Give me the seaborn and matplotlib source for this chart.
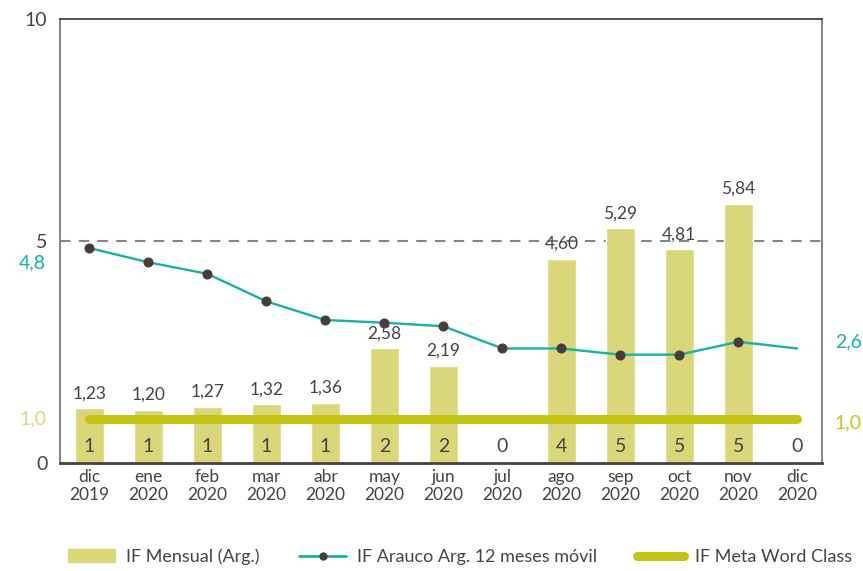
import numpy as np
import pandas as pd
import matplotlib.pyplot as plt
import seaborn as sns
from matplotlib.ticker import MultipleLocator
from matplotlib.lines import Line2D
from matplotlib.patches import Patch
import matplotlib.transforms as mtransforms

# data
meses = ["dic\n2019", "ene\n2020", "feb\n2020", "mar\n2020", "abr\n2020", "may\n2020",
         "jun\n2020", "jul\n2020", "ago\n2020", "sep\n2020", "oct\n2020", "nov\n2020",
         "dic\n2020"]
if_mensual = [1.23, 1.20, 1.27, 1.32, 1.36, 2.58, 2.19, 0, 4.60, 5.29, 4.81, 5.84, 0]
accidentes = [1, 1, 1, 1, 1, 2, 2, 0, 4, 5, 5, 5, 0]
if_movil = [4.84, 4.52, 4.26, 3.64, 3.22, 3.16, 3.08, 2.58, 2.58, 2.44, 2.44, 2.73, 2.58]
meta = 1.0

BAR = "#dad77a"
TEAL = "#17b1a7"
OLIVE = "#c4c417"
DARK = "#4a4141"
GRAY = "#7d7774"

sns.set_style("white")
plt.rcParams["font.family"] = ["Lato", "DejaVu Sans"]

df = pd.DataFrame({"mes": meses, "if_mensual": if_mensual,
                   "accidentes": accidentes, "if_movil": if_movil})
df["pos"] = np.arange(len(df))

fig = plt.figure(figsize=(8.63, 5.71), dpi=100)
ax = fig.add_axes([0.0695, 0.189, 0.883, 0.778])

sns.barplot(data=df, x="mes", y="if_mensual", order=meses, color=BAR,
            saturation=1, width=0.49, ax=ax, zorder=2)

# target line (meta)
ax.plot([df["pos"].iloc[0], df["pos"].iloc[-1]], [meta, meta], color=OLIVE, lw=6.5,
        solid_capstyle="round", zorder=3)

# dashed reference at 5
ax.axhline(5, color="#858585", lw=1.5, ls=(0, (5, 4)), zorder=1)

# 12 month moving line
sns.lineplot(data=df, x="pos", y="if_movil", color=TEAL, lw=1.7, marker="o",
             markersize=6.5, markerfacecolor="#463c3c", markeredgecolor="#463c3c",
             markevery=list(range(len(df) - 1)), ax=ax, zorder=4)

# value labels
for i, row in df.iterrows():
    if row["if_mensual"] > 0:
        ax.annotate(f"{row['if_mensual']:.2f}".replace(".", ","),
                    (row["pos"], row["if_mensual"]), xytext=(0, 5),
                    textcoords="offset points", ha="center", va="bottom",
                    fontsize=12.5, color=DARK, zorder=5)
    ax.text(row["pos"], 0.38, str(row["accidentes"]), ha="center", va="center",
            fontsize=14, color=DARK, zorder=5)

ax.set_xlim(-0.5, 12.42)
ax.set_ylim(0, 10)
ax.set_yticks([0, 5, 10])
ax.yaxis.set_minor_locator(MultipleLocator(1))
ax.set_xlabel("")
ax.set_ylabel("")
ax.set_xticks(range(len(meses)))
ax.set_xticklabels(meses, fontsize=12.5, color=DARK, linespacing=1.2)
ax.tick_params(axis="x", length=0, pad=4)
ax.tick_params(axis="y", which="major", direction="out", length=4, width=1.2,
               color=GRAY, labelsize=14, labelcolor=DARK, pad=5)
ax.tick_params(axis="y", which="minor", direction="in", length=3.5, width=1,
               color=GRAY)

for side in ["left", "right"]:
    ax.spines[side].set_color(GRAY)
    ax.spines[side].set_linewidth(1.3)
ax.spines["top"].set_color(DARK)
ax.spines["top"].set_linewidth(1.3)
ax.spines["bottom"].set_color(DARK)
ax.spines["bottom"].set_linewidth(2)

# side labels
trans = mtransforms.blended_transform_factory(ax.transAxes, ax.transData)
ax.text(-0.018, 4.5, "4,8", transform=trans, ha="right", va="center",
        fontsize=14, color=TEAL)
ax.text(-0.018, 0.99, "1,0", transform=trans, ha="right", va="center",
        fontsize=14, color="#dcd87c")
ax.text(1.017, 2.73, "2,6", transform=trans, ha="left", va="center",
        fontsize=14, color=TEAL)
ax.text(1.017, 0.9, "1,0", transform=trans, ha="left", va="center",
        fontsize=14, color=OLIVE)

handles = [
    Patch(color=BAR),
    Line2D([], [], color=TEAL, lw=2, marker="o", markersize=5,
           markerfacecolor="#463c3c", markeredgecolor="#463c3c"),
    Line2D([], [], color=OLIVE, lw=6.5, solid_capstyle="round"),
]
labels = ["IF Mensual (Arg.)", "IF Arauco Arg. 12 meses móvil", "IF Meta Word Class"]
leg = fig.legend(handles, labels, loc="lower center", bbox_to_anchor=(0.533, -0.018),
                 ncol=3, frameon=False, fontsize=13, handlelength=2.6,
                 handletextpad=0.6, columnspacing=2.2)
for t in leg.get_texts():
    t.set_color(DARK)

fig.savefig("out.png", dpi=100)
plt.close(fig)
